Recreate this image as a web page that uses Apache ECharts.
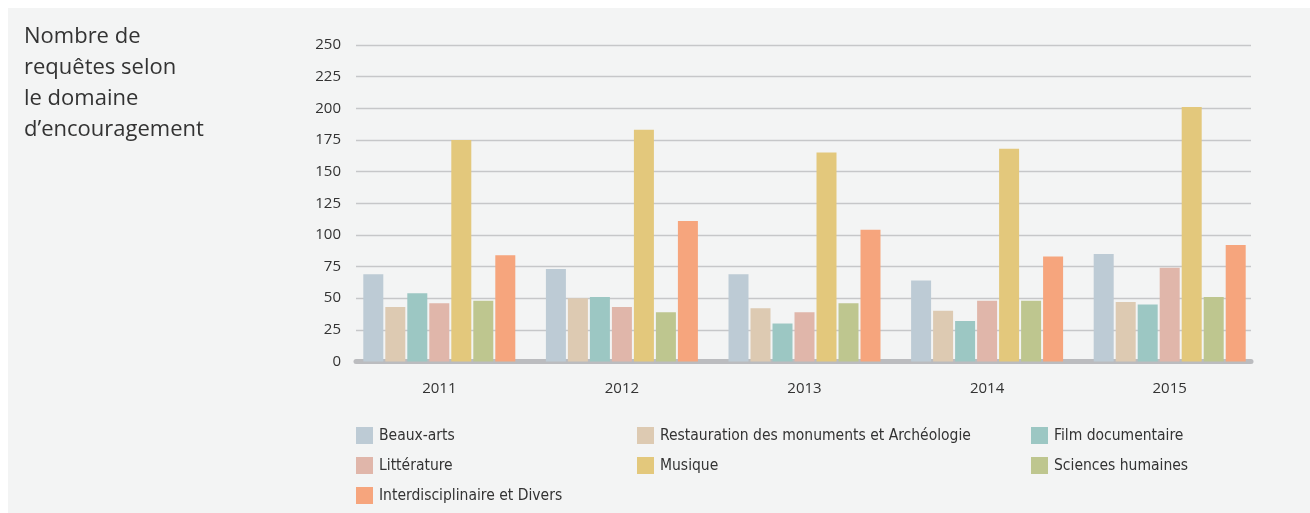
<!DOCTYPE html>
<html>
<head>
<meta charset="utf-8">
<script src="https://cdn.jsdelivr.net/npm/echarts@6/dist/echarts.min.js"></script>
<style>
html,body{margin:0;padding:0;background:#ffffff;}
#c{width:1310px;height:513px;}
</style>
</head>
<body>
<div id="c"></div>
<script>
const years = ['2011', '2012', '2013', '2014', '2015'];
const yTicks = [0, 25, 50, 75, 100, 125, 150, 175, 200, 225, 250];
const seriesNames = ['Beaux-arts', 'Restauration des monuments et Archéologie', 'Film documentaire', 'Littérature', 'Musique', 'Sciences humaines', 'Interdisciplinaire et Divers'];
const beauxArts = [69, 73, 69, 64, 85];
const restauration = [43, 50, 42, 40, 47];
const filmDoc = [54, 51, 30, 32, 45];
const litterature = [46, 43, 39, 48, 74];
const musique = [175, 183, 165, 168, 201];
const sciencesHum = [48, 39, 46, 48, 51];
const interdisc = [84, 111, 104, 83, 92];
const seriesValues = [beauxArts, restauration, filmDoc, litterature, musique, sciencesHum, interdisc];
const colors = ['#bdcbd5', '#ddcab2', '#9cc7c3', '#e0b6aa', '#e3c87c', '#bec68f', '#f6a57d'];

const chart = echarts.init(document.getElementById('c'), null, {renderer: 'canvas'});
const textColor = '#333333';
const legendFont = '"DejaVu Sans Condensed", "Liberation Sans", sans-serif';

function legendCol(names, left) {
  return {
    orient: 'vertical', left: left, top: 427, itemWidth: 17, itemHeight: 17, itemGap: 13,
    padding: 0, icon: 'rect', data: names, selectedMode: false,
    textStyle: {color: textColor, fontSize: 15.5, fontFamily: legendFont, padding: [0, 0, 0, 1]}
  };
}

chart.setOption({
  animation: false,
  backgroundColor: '#ffffff',
  color: colors,
  graphic: [
    {type: 'rect', z: -10, silent: true, shape: {x: 8, y: 8, width: 1302, height: 505}, style: {fill: '#f3f4f4'}},
    {type: 'text', left: 24, top: 21, z: 10, style: {
      text: 'Nombre de\nrequêtes selon\nle domaine\nd\u2019encouragement',
      fill: textColor, font: '22px "Open Sans", sans-serif', lineHeight: 31
    }}
  ],
  legend: [
    legendCol([seriesNames[0], seriesNames[3], seriesNames[6]], 356),
    legendCol([seriesNames[1], seriesNames[4]], 637),
    legendCol([seriesNames[2], seriesNames[5]], 1031)
  ],
  grid: [
    {left: 356, right: 59, top: 45, bottom: 151.5},
    {left: 348, right: 49, top: 45, bottom: 151.5}
  ],
  xAxis: [
    {type: 'category', gridIndex: 0, data: years, offset: 3,
     axisLine: {show: true, lineStyle: {color: '#bbbcbf', width: 5}},
     axisTick: {show: false}, axisLabel: {show: false}, splitLine: {show: false}},
    {type: 'category', gridIndex: 1, data: years,
     axisLine: {show: false}, axisTick: {show: false},
     axisLabel: {color: textColor, fontSize: 15, fontFamily: '"Open Sans", sans-serif', margin: 20}}
  ],
  yAxis: [
    {type: 'value', gridIndex: 0, min: yTicks[0], max: yTicks[yTicks.length - 1], interval: 25,
     axisLine: {show: false}, axisTick: {show: false},
     axisLabel: {color: textColor, fontSize: 15, fontFamily: '"Open Sans", sans-serif', margin: 15},
     splitLine: {lineStyle: {color: '#c6c7c9', width: 1.3}}},
    {type: 'value', gridIndex: 1, min: yTicks[0], max: yTicks[yTicks.length - 1], interval: 25,
     axisLine: {show: false}, axisTick: {show: false}, axisLabel: {show: false}, splitLine: {show: false}}
  ],
  series: seriesNames.map((n, i) => ({
    name: n, type: 'bar', xAxisIndex: 1, yAxisIndex: 1,
    data: seriesValues[i], barWidth: 20, barGap: '10%',
    itemStyle: {color: colors[i]}
  }))
});
</script>
</body>
</html>
